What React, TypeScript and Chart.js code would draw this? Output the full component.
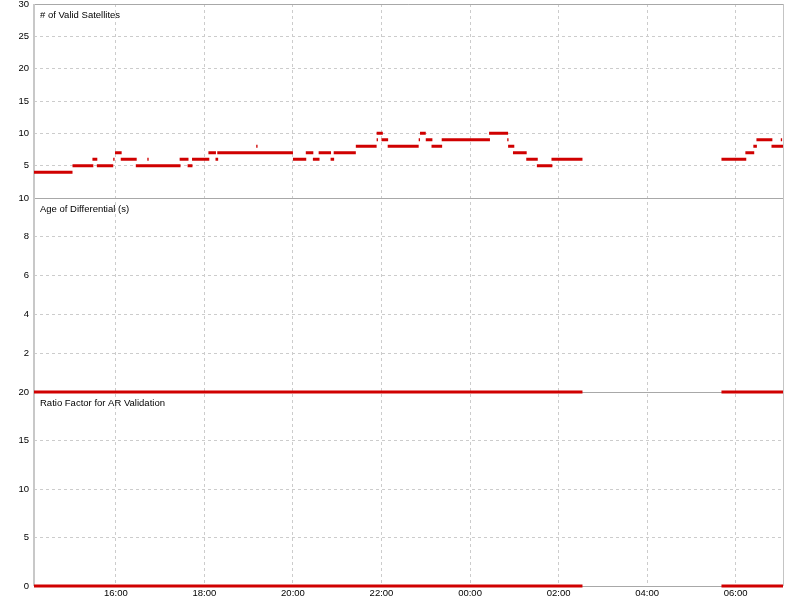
import React, { useEffect, useRef } from 'react';
import { Chart, registerables } from 'chart.js';
Chart.register(...registerables);

// time in hours (24 = 00:00 next day)
const xMin = 14.15;
const xMax = 31.07;
const xTickHours = [16, 18, 20, 22, 24, 26, 28, 30];

const panelTitles = ['# of Valid Satellites', 'Age of Differential (s)', 'Ratio Factor for AR Validation'];

// segments: [startHour, endHour, value]
const satellites: number[][] = [
  [14.15, 15.02, 4], [15.02, 15.49, 5], [15.47, 15.58, 6], [15.57, 15.94, 5],
  [15.94, 15.97, 6], [15.98, 16.13, 7], [16.11, 16.47, 6], [16.45, 17.46, 5],
  [16.71, 16.74, 6], [17.44, 17.64, 6], [17.62, 17.73, 5], [17.72, 18.11, 6],
  [18.09, 18.26, 7], [18.25, 18.31, 6], [18.29, 20.0, 7], [19.17, 19.2, 8],
  [20.0, 20.3, 6], [20.29, 20.46, 7], [20.45, 20.6, 6], [20.58, 20.86, 7],
  [20.85, 20.93, 6], [20.92, 21.42, 7], [21.42, 21.89, 8], [21.89, 21.92, 9],
  [21.89, 22.03, 10], [22.0, 22.15, 9], [22.14, 22.84, 8], [22.84, 22.87, 9],
  [22.87, 23.0, 10], [23.0, 23.15, 9], [23.13, 23.37, 8], [23.36, 24.45, 9],
  [24.43, 24.86, 10], [24.84, 24.87, 9], [24.86, 25.0, 8], [24.97, 25.28, 7],
  [25.27, 25.53, 6], [25.51, 25.86, 5], [25.84, 26.54, 6],
  [29.68, 30.24, 6], [30.22, 30.42, 7], [30.4, 30.48, 8], [30.47, 30.83, 9],
  [30.81, 31.07, 8], [31.02, 31.05, 9],
];
const ageOfDifferential: number[][] = [[14.15, 26.54, 0], [29.68, 31.07, 0]];
const ratioFactor: number[][] = [[14.15, 26.54, 0], [29.68, 31.07, 0]];

const satTicks = { min: 0, max: 30, step: 5 };
const ageTicks = { min: 0, max: 10, step: 2 };
const ratioTicks = { min: 0, max: 20, step: 5 };

const FONT = "'Liberation Sans', Arial, sans-serif";
const RED = '#d00000';

function segData(segs: number[][]) {
  const out: any[] = [];
  segs.forEach(([a, b, v]) => {
    out.push({ x: a, y: v });
    out.push({ x: b, y: v });
    out.push({ x: b, y: null });
  });
  return out;
}

const panelPlugin = {
  id: 'panels',
  beforeDatasetsDraw(chart: any) {
    const ctx = chart.ctx;
    const area = chart.chartArea;
    ctx.save();
    ctx.strokeStyle = '#a8a8a8';
    ctx.lineWidth = 1;
    ['ySat', 'yAge', 'yRatio'].forEach((id) => {
      const s = chart.scales[id];
      [s.top, s.bottom].forEach((y: number) => {
        const yy = Math.round(y) + 0.5;
        ctx.beginPath();
        ctx.moveTo(area.left, yy);
        ctx.lineTo(area.right, yy);
        ctx.stroke();
      });
    });
    ctx.strokeStyle = '#c4c4c4';
    ctx.beginPath();
    ctx.moveTo(Math.round(area.right) + 0.5, area.top);
    ctx.lineTo(Math.round(area.right) + 0.5, area.bottom);
    ctx.stroke();
    ctx.lineWidth = 2;
    ctx.strokeStyle = '#c8c8c8';
    ctx.beginPath();
    ctx.moveTo(area.left, area.top);
    ctx.lineTo(area.left, area.bottom);
    ctx.stroke();
    ctx.fillStyle = '#000';
    ctx.font = `9.5px ${FONT}`;
    ctx.textAlign = 'left';
    ctx.textBaseline = 'middle';
    ['ySat', 'yAge', 'yRatio'].forEach((id, i) => {
      const s = chart.scales[id];
      ctx.fillText(panelTitles[i], area.left + 6, s.top + 11);
    });
    ctx.restore();
  },
};

function yScale(weight: number, t: { min: number; max: number; step: number }, hideZero: boolean) {
  return {
    type: 'linear',
    position: 'left',
    stack: 'panels',
    stackWeight: 1,
    weight,
    min: t.min,
    max: t.max,
    afterFit: (s: any) => {
      s.width = 34;
      s.paddingTop = 0;
      s.paddingBottom = 0;
    },
    border: { display: false, dash: [3, 3] },
    grid: { color: '#cccccc', lineWidth: 1, drawTicks: false },
    ticks: {
      stepSize: t.step,
      autoSkip: false,
      padding: 5,
      color: '#000',
      font: { family: FONT, size: 9.5 },
      callback: (v: number) => (hideZero && v === t.min ? '' : String(v)),
    },
  };
}

export default function App() {
  const ref = useRef<HTMLCanvasElement>(null);
  useEffect(() => {
    document.body.style.margin = '0';
    const ds = (data: number[][], yAxisID: string) => ({
      data: segData(data),
      yAxisID,
      xAxisID: 'x',
      borderColor: RED,
      backgroundColor: RED,
      borderWidth: 3,
      borderCapStyle: 'butt',
      pointRadius: 0,
      spanGaps: false,
      tension: 0,
      clip: 8,
    });
    const chart = new Chart(ref.current as HTMLCanvasElement, {
      type: 'line',
      data: {
        datasets: [
          ds(satellites, 'ySat'),
          ds(ageOfDifferential, 'yAge'),
          ds(ratioFactor, 'yRatio'),
        ] as any,
      },
      options: {
        animation: false,
        responsive: false,
        layout: { padding: { top: 4, right: 8, left: 0, bottom: 0 } },
        plugins: { legend: { display: false }, tooltip: { enabled: false } },
        scales: {
          x: {
            type: 'linear',
            position: 'bottom',
            min: xMin,
            max: xMax,
            afterFit: (s: any) => {
              s.height = 14;
              s.paddingLeft = 0;
              s.paddingRight = 0;
            },
            afterBuildTicks: (s: any) => { s.ticks = xTickHours.map((v) => ({ value: v })); },
            border: { display: false, dash: [3, 3] },
            grid: { color: '#cccccc', lineWidth: 1, drawTicks: false },
            ticks: {
              autoSkip: false,
              maxRotation: 0,
              padding: 2,
              color: '#000',
              font: { family: FONT, size: 9.5 },
              callback: (v: number) => `${String(Math.round(v) % 24).padStart(2, '0')}:00`,
            },
          },
          ySat: yScale(3, satTicks, true),
          yAge: yScale(2, ageTicks, true),
          yRatio: yScale(1, ratioTicks, false),
        } as any,
      },
      plugins: [panelPlugin],
    });
    return () => chart.destroy();
  }, []);
  return (
    <div style={{ width: 791, height: 600 }}>
      <canvas ref={ref} width={791} height={600} style={{ display: 'block' }} />
    </div>
  );
}
